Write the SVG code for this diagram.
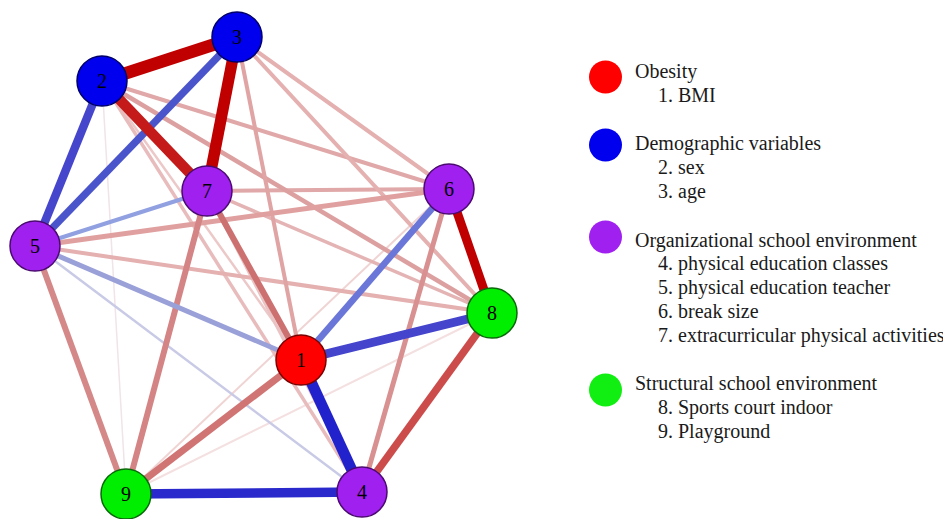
<svg xmlns="http://www.w3.org/2000/svg" width="943" height="519" viewBox="0 0 943 519">
<style>
.n circle{stroke-width:1.5}
.n text{font-family:"Liberation Serif","Times New Roman",serif;font-size:20px;text-anchor:middle;fill:#000}
.e line{stroke-linecap:butt;fill:none}
.lg text{font-family:"Liberation Serif","Times New Roman",serif;font-size:20px;fill:#1a1a1a}
</style>
<rect width="943" height="519" fill="#ffffff"/>
<g id="edges" class="e">
<line x1="102" y1="81" x2="126" y2="494" stroke="#f0e4e8" stroke-width="1.5"/>
<line x1="126" y1="494" x2="492" y2="313" stroke="#f4e0e0" stroke-width="2"/>
<line x1="126" y1="494" x2="449" y2="189" stroke="#f0d4d4" stroke-width="2"/>
<line x1="102" y1="81" x2="301" y2="360" stroke="#ecc8c8" stroke-width="2.5"/>
<line x1="207" y1="191" x2="362" y2="492" stroke="#eac4c4" stroke-width="3"/>
<line x1="102" y1="81" x2="362" y2="492" stroke="#e8bcbc" stroke-width="3.5"/>
<line x1="35" y1="246" x2="362" y2="492" stroke="#c8cae6" stroke-width="2.5"/>
<line x1="207" y1="191" x2="492" y2="313" stroke="#e4b4b4" stroke-width="3.5"/>
<line x1="35" y1="246" x2="492" y2="313" stroke="#e4b0b0" stroke-width="4"/>
<line x1="207" y1="191" x2="449" y2="189" stroke="#e0a8a8" stroke-width="4"/>
<line x1="102" y1="81" x2="492" y2="313" stroke="#dca0a0" stroke-width="4.5"/>
<line x1="102" y1="81" x2="449" y2="189" stroke="#e0a8a8" stroke-width="4"/>
<line x1="237" y1="37" x2="492" y2="313" stroke="#e4b0b0" stroke-width="4"/>
<line x1="237" y1="37" x2="449" y2="189" stroke="#e4b0b0" stroke-width="4"/>
<line x1="237" y1="37" x2="301" y2="360" stroke="#e0a4a4" stroke-width="4"/>
<line x1="35" y1="246" x2="449" y2="189" stroke="#e0a0a0" stroke-width="5"/>
<line x1="449" y1="189" x2="362" y2="492" stroke="#d89090" stroke-width="5"/>
<line x1="35" y1="246" x2="126" y2="494" stroke="#d48888" stroke-width="6"/>
<line x1="207" y1="191" x2="126" y2="494" stroke="#d48484" stroke-width="6"/>
<line x1="207" y1="191" x2="301" y2="360" stroke="#cc7070" stroke-width="6"/>
<line x1="301" y1="360" x2="126" y2="494" stroke="#d07474" stroke-width="7"/>
<line x1="492" y1="313" x2="362" y2="492" stroke="#cc4c4c" stroke-width="7.5"/>
<line x1="35" y1="246" x2="207" y2="191" stroke="#90a0e0" stroke-width="4"/>
<line x1="35" y1="246" x2="301" y2="360" stroke="#9aa0d8" stroke-width="5"/>
<line x1="301" y1="360" x2="449" y2="189" stroke="#6a76d8" stroke-width="6.5"/>
<line x1="237" y1="37" x2="35" y2="246" stroke="#4a55cc" stroke-width="7.5"/>
<line x1="102" y1="81" x2="35" y2="246" stroke="#4646cc" stroke-width="8.5"/>
<line x1="301" y1="360" x2="492" y2="313" stroke="#4444cc" stroke-width="8.5"/>
<line x1="126" y1="494" x2="362" y2="492" stroke="#2a2acc" stroke-width="9.5"/>
<line x1="301" y1="360" x2="362" y2="492" stroke="#2222cc" stroke-width="11"/>
<line x1="449" y1="189" x2="492" y2="313" stroke="#c00000" stroke-width="9"/>
<line x1="102" y1="81" x2="207" y2="191" stroke="#c41a1a" stroke-width="10.5"/>
<line x1="237" y1="37" x2="207" y2="191" stroke="#c00000" stroke-width="11.5"/>
<line x1="102" y1="81" x2="237" y2="37" stroke="#c00000" stroke-width="12.5"/>
</g>
<g id="node1" class="n"><circle cx="301" cy="360" r="25" fill="#ff0000" stroke="#7a0000"/><text x="301" y="367">1</text></g>
<g id="node2" class="n"><circle cx="102" cy="81" r="25" fill="#0000ee" stroke="#00006a"/><text x="102" y="88">2</text></g>
<g id="node3" class="n"><circle cx="237" cy="37" r="25" fill="#0000ee" stroke="#00006a"/><text x="237" y="44">3</text></g>
<g id="node4" class="n"><circle cx="362" cy="492" r="25" fill="#a020f0" stroke="#4a0a70"/><text x="362" y="499" fill="#3a0a60">4</text></g>
<g id="node5" class="n"><circle cx="35" cy="246" r="25" fill="#a020f0" stroke="#4a0a70"/><text x="35" y="253">5</text></g>
<g id="node6" class="n"><circle cx="449" cy="189" r="25" fill="#a020f0" stroke="#4a0a70"/><text x="449" y="196">6</text></g>
<g id="node7" class="n"><circle cx="207" cy="191" r="25" fill="#a020f0" stroke="#4a0a70"/><text x="207" y="198">7</text></g>
<g id="node8" class="n"><circle cx="492" cy="313" r="25" fill="#00ee00" stroke="#0a6a0a"/><text x="492" y="320">8</text></g>
<g id="node9" class="n"><circle cx="126" cy="494" r="25" fill="#00ee00" stroke="#0a6a0a"/><text x="126" y="501">9</text></g>
<g id="legend" class="lg">
<circle cx="605.5" cy="77" r="16.5" fill="#ff0000"/>
<circle cx="605.5" cy="145" r="16.5" fill="#0000ee"/>
<circle cx="605.5" cy="237" r="16.5" fill="#a020f0"/>
<circle cx="605.5" cy="390" r="16.5" fill="#11ee11"/>
<text x="635" y="78">Obesity</text>
<text x="658" y="102">1. BMI</text>
<text x="635" y="150">Demographic variables</text>
<text x="658" y="174">2. sex</text>
<text x="658" y="198">3. age</text>
<text x="635" y="247">Organizational school environment</text>
<text x="658" y="270">4. physical education classes</text>
<text x="658" y="294">5. physical education teacher</text>
<text x="658" y="318">6. break size</text>
<text x="658" y="342">7. extracurricular physical activities</text>
<text x="635" y="390">Structural school environment</text>
<text x="658" y="414">8. Sports court indoor</text>
<text x="658" y="438">9. Playground</text>
</g>
</svg>
